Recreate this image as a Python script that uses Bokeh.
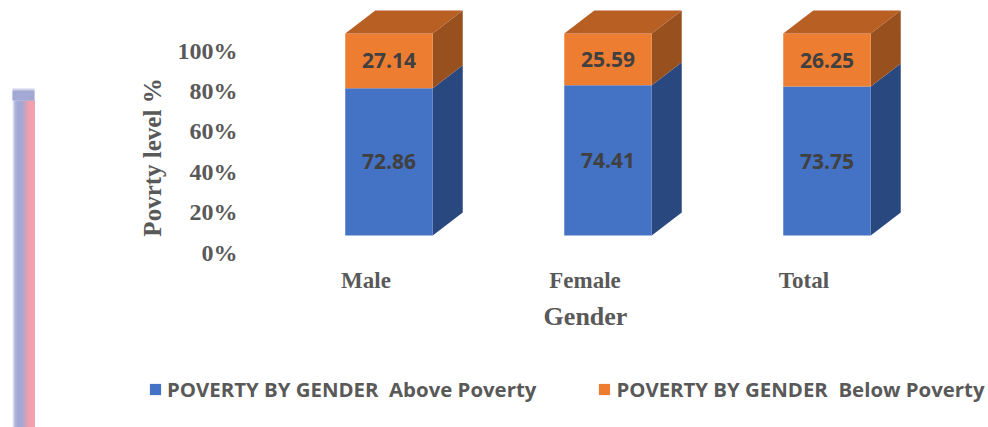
from bokeh.embed import file_html
from bokeh.resources import INLINE
from bokeh.plotting import figure
from bokeh.models import (BoxAnnotation, FixedTicker, Label, Legend, LegendItem,
                          LinearAxis, Range1d)
from bokeh.core.properties import value

categories = ["Male", "Female", "Total"]
above_poverty = [72.86, 74.41, 73.75]
below_poverty = [27.14, 25.59, 26.25]
y_ticks = [0, 20, 40, 60, 80, 100]
series_names = ["POVERTY BY GENDER\u00a0\u00a0Above Poverty", "POVERTY BY GENDER\u00a0\u00a0Below Poverty"]

W, H = 988, 427
PX_PER_Y = 202 / 100
PX_PER_X = 219
BAR_W = 87.5 / PX_PER_X
DX, DY = 30 / PX_PER_X, 23 / PX_PER_Y
x0_px, y0_px = 388.5, 235          # canvas position of category 0 / value 0

xr = Range1d(-x0_px / PX_PER_X, (W - x0_px) / PX_PER_X)
yr = Range1d((y0_px - H) / PX_PER_Y, y0_px / PX_PER_Y)

p = figure(width=W, height=H, x_range=xr, y_range=yr, output_backend="svg", toolbar_location=None,
           min_border=0, x_axis_location=None, y_axis_location=None)
p.outline_line_color = None
p.grid.visible = False
p.background_fill_color = None

FRONT = ["#4472c4", "#ed7d31"]
TOP = ["#35599a", "#b85f24"]
SIDE = ["#2a4880", "#97501e"]

xs = list(range(len(categories)))
bottoms = [[0] * 3, above_poverty]
tops = [above_poverty, [a + b for a, b in zip(above_poverty, below_poverty)]]
renderers = []
for k in range(2):
    side_x = [[x + BAR_W / 2, x + BAR_W / 2 + DX, x + BAR_W / 2 + DX, x + BAR_W / 2] for x in xs]
    side_y = [[b, b + DY, t + DY, t] for b, t in zip(bottoms[k], tops[k])]
    p.patches(side_x, side_y, fill_color=SIDE[k], line_color=None)
    r = p.vbar(x=xs, bottom=bottoms[k], top=tops[k], width=BAR_W, fill_color=FRONT[k], line_color=None)
    renderers.append(r)
top_x = [[x - BAR_W / 2, x + BAR_W / 2, x + BAR_W / 2 + DX, x - BAR_W / 2 + DX] for x in xs]
top_y = [[t, t, t + DY, t + DY] for t in tops[1]]
p.patches(top_x, top_y, fill_color=TOP[1], line_color=None)

lab_x, lab_y, lab_t = [], [], []
for k, vals in enumerate([above_poverty, below_poverty]):
    for i, v in enumerate(vals):
        lab_x.append(xs[i])
        lab_y.append((bottoms[k][i] + tops[k][i]) / 2)
        lab_t.append(f"{v:.2f}")
p.text(lab_x, lab_y, text=lab_t, text_align="center", text_baseline="middle",
       text_font=value("Open Sans"), text_font_style="bold", text_font_size="21px", text_color="#404040")

p.extra_y_ranges["lab"] = Range1d(yr.start + 17 / PX_PER_Y, yr.end + 17 / PX_PER_Y)
p.extra_x_ranges["lab"] = Range1d(xr.start + 23 / PX_PER_X, xr.end + 23 / PX_PER_X)
ya = LinearAxis(y_range_name="lab", ticker=FixedTicker(ticks=y_ticks),
                major_label_overrides={t: f"{t}%" for t in y_ticks},
                fixed_location=(245 - x0_px) / PX_PER_X)
xa = LinearAxis(x_range_name="lab", ticker=FixedTicker(ticks=xs),
                major_label_overrides={i: c for i, c in enumerate(categories)},
                fixed_location=(y0_px - 255) / PX_PER_Y)
for a in (ya, xa):
    a.axis_line_color = None
    a.major_tick_line_color = None
    a.minor_tick_line_color = None
    a.major_label_text_font = "Liberation Serif"
    a.major_label_text_font_style = "bold"
    a.major_label_text_color = "#595959"
ya.major_label_text_font_size = "24px"
xa.major_label_text_font_size = "23px"
ya.major_label_standoff = 2
xa.major_label_standoff = 6
p.add_layout(ya, "left")
p.add_layout(xa, "below")

p.add_layout(Label(x=152, y=H - 157, x_units="screen", y_units="screen", text="Povrty level %",
                   angle=90, angle_units="deg", text_align="center", text_baseline="middle",
                   text_font="Liberation Serif", text_font_style="bold", text_font_size="25px",
                   text_color="#595959"))
p.add_layout(Label(x=585, y=H - 316, x_units="screen", y_units="screen", text="Gender",
                   text_align="center", text_baseline="middle",
                   text_font="Liberation Serif", text_font_style="bold", text_font_size="26px",
                   text_color="#595959"))

leg = Legend(items=[LegendItem(label=series_names[0], renderers=[renderers[0]]),
                    LegendItem(label=series_names[1], renderers=[renderers[1]])],
             orientation="horizontal", location=(148, 24), border_line_color=None,
             background_fill_color=None, glyph_width=14, glyph_height=14, spacing=61,
             label_text_font="Open Sans", label_text_font_style="bold", label_text_font_size="20.4px",
             label_text_color="#595959", margin=0, padding=0)
p.add_layout(leg)

strip = [(12, "#e8e9f4"), (13, "#c9cde6"), (14, "#afb5da"), (16, "#a3a9d6"),
         (20, "#a5a7d3"), (22, "#b5a5c9"), (24, "#cba3bd"), (26, "#e2a1b3"),
         (28, "#f2a0ae"), (30, "#f5a0ad")]
top_band = [(88, "#cfd2e8"), (90, "#a3a8d4")]
STRIP_RIGHT, BAND_BOTTOM = 34, 100
for l, c in strip:
    p.add_layout(BoxAnnotation(left=l, right=STRIP_RIGHT, top=H - BAND_BOTTOM, bottom=0, left_units="screen",
                               right_units="screen", top_units="screen", bottom_units="screen",
                               fill_color=c, fill_alpha=1, line_color=None))
for t, c in top_band:
    p.add_layout(BoxAnnotation(left=12, right=STRIP_RIGHT, top=H - t, bottom=H - BAND_BOTTOM, left_units="screen",
                               right_units="screen", top_units="screen", bottom_units="screen",
                               fill_color=c, fill_alpha=1, line_color=None))

open("out.html", "w").write(file_html(p, INLINE))
